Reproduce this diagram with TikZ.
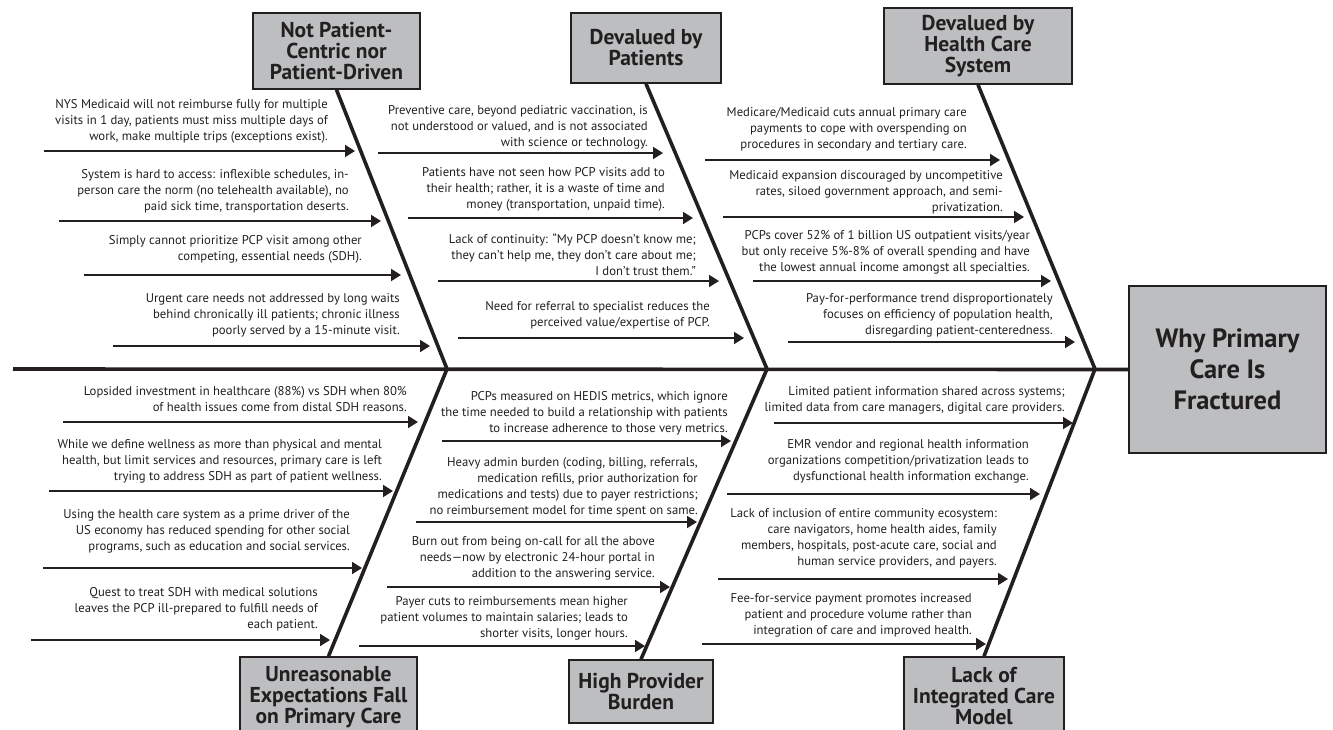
\documentclass[tikz,border=0pt]{standalone}
\usepackage{fontspec}
\setmainfont{PT Sans}
\usepackage{xcolor}
\usetikzlibrary{arrows.meta}
\definecolor{boxgray}{RGB}{188,190,192}
\definecolor{ink}{RGB}{35,31,32}
\tikzset{
  headbox/.style={draw=ink,line width=1.6pt,fill=boxgray,text=ink,align=center,inner sep=0pt,
    font=\bfseries\fontsize{21.5}{21}\selectfont},
  cause/.style={text=ink,align=right,inner sep=0pt,anchor=north east,
    font=\fontsize{12.7}{16}\selectfont},
  bone/.style={draw=ink,line width=3.6pt},
  feed/.style={draw=ink,line width=1.8pt,-{Triangle[length=10pt,width=12pt]}}
}
\begin{document}
\begin{tikzpicture}
        [x=1pt,y=-1pt]
        \useasboundingbox (0,0) rectangle (1333,729);

        \node [headbox,name=why,minimum width=197pt,minimum height=167pt,
               font=\bfseries\fontsize{26.5}{31}\selectfont] at (1227.5,369.5) {Why Primary\\Care Is\\Fractured};
        \node [headbox,name=np,minimum width=167pt,minimum height=76pt] at (336.5,51) {Not Patient-\\Centric nor\\Patient-Driven};
        \node [headbox,name=dp,minimum width=150pt,minimum height=70pt] at (646,48) {Devalued by\\Patients};
        \node [headbox,name=dh,minimum width=188pt,minimum height=76pt] at (978,46) {Devalued by\\Health Care\\System};
        \node [headbox,name=ue,minimum width=177pt,minimum height=80pt] at (328.5,697) {Unreasonable\\Expectations Fall\\on Primary Care};
        \node [headbox,name=hb,minimum width=144pt,minimum height=63pt] at (641,691.5) {High Provider\\Burden};
        \node [headbox,name=lc,minimum width=160pt,minimum height=78pt] at (984,696) {Lack of\\Integrated Care\\Model};

        \coordinate (tail) at (13,369);
        \coordinate (j1) at (447,369);
        \coordinate (j2) at (767,369);
        \coordinate (j3) at (1095,369);

        \path[bone] (tail) -- (why.west);
        \path[bone,line join=miter] (np.south) -- (j1) -- (ue.north);
        \path[bone,line join=miter] (dp.south) -- (j2) -- (hb.north);
        \path[bone,line join=miter] (dh.south) -- (j3) -- (lc.north);

        \node [cause,name=t11] at (328,99) {NYS Medicaid will not reimburse fully for multiple\\visits in 1 day, patients must miss multiple days of\\work, make multiple trips (exceptions exist).};
        \node [cause,name=t12] at (349,169) {System is hard to access: inflexible schedules, in-\\person care the norm (no telehealth available), no\\paid sick time, transportation deserts.};
        \node [cause,name=t13] at (362,235) {Simply cannot prioritize PCP visit among other\\competing, essential needs (SDH).};
        \node [cause,name=t14] at (400,293) {Urgent care needs not addressed by long waits\\behind chronically ill patients; chronic illness\\poorly served by a 15-minute visit.};

        \node [cause,name=t21] at (648,105) {Preventive care, beyond pediatric vaccination, is\\not understood or valued, and is not associated\\with science or technology.};
        \node [cause,name=t22] at (665,167) {Patients have not seen how PCP visits add to\\their health; rather, it is a waste of time and\\money (transportation, unpaid time).};
        \node [cause,name=t23] at (696,233) {Lack of continuity: “My PCP doesn’t know me;\\they can’t help me, they don’t care about me;\\I don’t trust them.”};
        \node [cause,name=t24] at (710,301) {Need for referral to specialist reduces the\\perceived value/expertise of PCP.};

        \node [cause,name=t31] at (967,107) {Medicare/Medicaid cuts annual primary care\\payments to cope with overspending on\\procedures in secondary and tertiary care.};
        \node [cause,name=t32] at (1003,170) {Medicaid expansion discouraged by uncompetitive\\rates, siloed government approach, and semi-\\privatization.};
        \node [cause,name=t33] at (1030,230) {PCPs cover 52\% of 1 billion US outpatient visits/year\\but only receive 5\%-8\% of overall spending and have\\the lowest annual income amongst all specialties.};
        \node [cause,name=t34] at (1053,293) {Pay-for-performance trend disproportionately\\focuses on efficiency of population health,\\disregarding patient-centeredness.};

        \node [cause,name=b11] at (407,386) {Lopsided investment in healthcare (88\%) vs SDH when 80\%\\of health issues come from distal SDH reasons.};
        \node [cause,name=b12] at (382,439) {While we define wellness as more than physical and mental\\health, but limit services and resources, primary care is left\\trying to address SDH as part of patient wellness.};
        \node [cause,name=b13] at (350,509) {Using the health care system as a prime driver of the\\US economy has reduced spending for other social\\programs, such as education and social services.};
        \node [cause,name=b14] at (318,587) {Quest to treat SDH with medical solutions\\leaves the PCP ill-prepared to fulfill needs of\\each patient.};

        \node [cause,name=b21] at (728,391) {PCPs measured on HEDIS metrics, which ignore\\the time needed to build a relationship with patients\\to increase adherence to those very metrics.};
        \node [cause,name=b22] at (698,457) {Heavy admin burden (coding, billing, referrals,\\medication refills, prior authorization for\\medications and tests) due to payer restrictions;\\no reimbursement model for time spent on same.};
        \node [cause,name=b23] at (655,536) {Burn out from being on-call for all the above\\needs---now by electronic 24-hour portal in\\addition to the answering service.};
        \node [cause,name=b24] at (628,596) {Payer cuts to reimbursements mean higher\\patient volumes to maintain salaries; leads to\\shorter visits, longer hours.};

        \node [cause,name=b31] at (1065,386) {Limited patient information shared across systems;\\limited data from care managers, digital care providers.};
        \node [cause,name=b32] at (1029,439) {EMR vendor and regional health information\\organizations competition/privatization leads to\\dysfunctional health information exchange.};
        \node [cause,name=b33] at (997,508) {Lack of inclusion of entire community ecosystem:\\care navigators, home health aides, family\\members, hospitals, post-acute care, social and\\human service providers, and payers.};
        \node [cause,name=b34] at (972,593) {Fee-for-service payment promotes increased\\patient and procedure volume rather than\\integration of care and improved health.};

        \coordinate (s11) at (44,151);  \coordinate (e11) at (355,151);
        \coordinate (s12) at (59,221);  \coordinate (e12) at (381,221);
        \coordinate (s13) at (84,275);  \coordinate (e13) at (401,275);
        \coordinate (s14) at (113,346); \coordinate (e14) at (430,346);
        \coordinate (s21) at (378,153); \coordinate (e21) at (663,153);
        \coordinate (s22) at (408,218); \coordinate (e22) at (693,218);
        \coordinate (s23) at (438,281); \coordinate (e23) at (719,281);
        \coordinate (s24) at (458,338); \coordinate (e24) at (744,338);
        \coordinate (s31) at (705,160); \coordinate (e31) at (1000,160);
        \coordinate (s32) at (723,217); \coordinate (e32) at (1024,217);
        \coordinate (s33) at (753,281); \coordinate (e33) at (1051,281);
        \coordinate (s34) at (788,342); \coordinate (e34) at (1075,342);
        \coordinate (r11) at (63,422);  \coordinate (f11) at (418,422);
        \coordinate (r12) at (49,491);  \coordinate (f12) at (393,491);
        \coordinate (r13) at (43,568);  \coordinate (f13) at (362,568);
        \coordinate (r14) at (31,640);  \coordinate (f14) at (330,640);
        \coordinate (r21) at (442,441); \coordinate (f21) at (731,441);
        \coordinate (r22) at (416,522); \coordinate (f22) at (697,522);
        \coordinate (r23) at (387,587); \coordinate (f23) at (670,587);
        \coordinate (r24) at (359,646); \coordinate (f24) at (645,646);
        \coordinate (r31) at (774,423); \coordinate (f31) at (1073,423);
        \coordinate (r32) at (727,494); \coordinate (f32) at (1040,494);
        \coordinate (r33) at (718,579); \coordinate (f33) at (1008,579);
        \coordinate (r34) at (702,644); \coordinate (f34) at (986,644);

        \path (s11) edge[feed] (e11) (s12) edge[feed] (e12) (s13) edge[feed] (e13) (s14) edge[feed] (e14)
              (s21) edge[feed] (e21) (s22) edge[feed] (e22) (s23) edge[feed] (e23) (s24) edge[feed] (e24)
              (s31) edge[feed] (e31) (s32) edge[feed] (e32) (s33) edge[feed] (e33) (s34) edge[feed] (e34)
              (r11) edge[feed] (f11) (r12) edge[feed] (f12) (r13) edge[feed] (f13) (r14) edge[feed] (f14)
              (r21) edge[feed] (f21) (r22) edge[feed] (f22) (r23) edge[feed] (f23) (r24) edge[feed] (f24)
              (r31) edge[feed] (f31) (r32) edge[feed] (f32) (r33) edge[feed] (f33) (r34) edge[feed] (f34);
    \end{tikzpicture}
\end{document}
